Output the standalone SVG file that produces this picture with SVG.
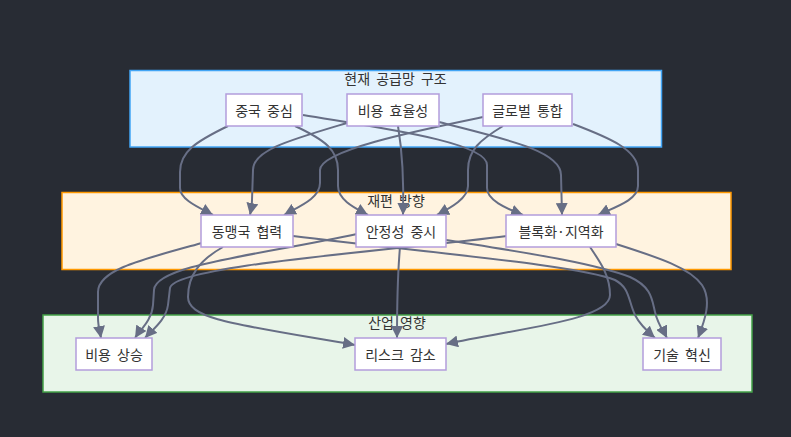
<svg xmlns="http://www.w3.org/2000/svg" width="791" height="437" viewBox="0 0 791 437">
<style>
text{font-family:"Noto Sans CJK KR","Noto Sans",sans-serif;font-size:14px;fill:#333;text-anchor:middle;dominant-baseline:central;word-spacing:3px}
.node rect{fill:#ffffff;stroke:#b39ddb;stroke-width:1.5}
.edge{fill:none;stroke:#676e85;stroke-width:2;marker-end:url(#arrow)}
</style>
<defs>
<marker id="arrow" viewBox="0 0 10 10" refX="10" refY="5" markerUnits="userSpaceOnUse" markerWidth="12" markerHeight="12" orient="auto">
<path d="M0,0 L10,5 L0,10 z" fill="#676e85"/>
</marker>
</defs>
<rect width="791" height="437" fill="#282c34"/>
<g id="clusters">
<g id="cluster-current">
<rect x="130" y="70.5" width="531.5" height="76.5" fill="#e3f2fd" stroke="#42a5f5" stroke-width="1.5"/>
<text x="395.5" y="78">현재 공급망 구조</text>
</g>
<g id="cluster-reorg">
<rect x="62" y="192.5" width="669" height="77" fill="#fff3e0" stroke="#ff9800" stroke-width="1.5"/>
<text x="396" y="200">재편 방향</text>
</g>
<g id="cluster-impact">
<rect x="43" y="315" width="709" height="77" fill="#e8f5e9" stroke="#43a047" stroke-width="1.5"/>
<text x="397" y="322">산업 영향</text>
</g>
</g>
<g id="edges">
<path class="edge" d="M228,126 C195,142 180,152 180,172 L180,188 C180,200 200,208 213,215"/>
<path class="edge" d="M295,126 C325,140 338,150 338,170 L338,186 C338,200 355,208 368,215"/>
<path class="edge" d="M303,115 C380,128 487,142 487,165 L487,188 C487,200 505,208 523,215"/>
<path class="edge" d="M347,123 C290,140 253,150 253,170 L252,200 C252,205 251,210 250,215"/>
<path class="edge" d="M398,126 C402,150 404,180 403,215"/>
<path class="edge" d="M439,122 C500,138 561,150 561,175 L562,215"/>
<path class="edge" d="M483,117 C420,130 320,150 320,170 L320,183 C320,198 300,206 284,215"/>
<path class="edge" d="M503,126 C480,140 468,150 468,170 L468,186 C468,198 452,207 437,215"/>
<path class="edge" d="M573,124 C610,138 638,150 638,170 L638,186 C638,200 615,207 598,215"/>
<path class="edge" d="M202,243 C140,260 98,270 98,292 L98,318 C98,326 100,332 101,338"/>
<path class="edge" d="M223,247 C200,260 188,275 188,297 C188,320 240,325 355,345"/>
<path class="edge" d="M293,236 C420,252 580,265 615,280 C630,288 628,300 635,315 C640,325 648,332 655,338"/>
<path class="edge" d="M357,234 C260,255 155,265 154,290 L153,305 C152,320 140,330 135,338"/>
<path class="edge" d="M400,247 C398,270 397,300 397,338"/>
<path class="edge" d="M446,240 C520,252 590,262 630,277 C652,287 652,300 655,312 C658,325 664,332 667,338"/>
<path class="edge" d="M507,236 C400,250 175,265 170,288 L168,305 C166,320 152,330 145,338"/>
<path class="edge" d="M590,247 C600,262 610,275 610,295 C610,320 520,328 446,344"/>
<path class="edge" d="M616,244 C660,258 690,268 702,285 C712,300 705,320 698,338"/>
</g>
<g id="node-china" class="node"><rect x="226" y="94" width="76" height="32"/><text x="264" y="110">중국 중심</text></g>
<g id="node-cost" class="node"><rect x="347" y="94" width="92" height="32"/><text x="393" y="110">비용 효율성</text></g>
<g id="node-global" class="node"><rect x="483" y="94" width="89" height="32"/><text x="527.5" y="110">글로벌 통합</text></g>
<g id="node-ally" class="node"><rect x="201" y="215" width="92" height="32"/><text x="247" y="231">동맹국 협력</text></g>
<g id="node-stable" class="node"><rect x="356" y="215" width="90" height="32"/><text x="401" y="231">안정성 중시</text></g>
<g id="node-bloc" class="node"><rect x="506" y="215" width="110" height="32"/><text x="561" y="231">블록화·지역화</text></g>
<g id="node-costup" class="node"><rect x="76" y="338" width="76" height="32"/><text x="114" y="354">비용 상승</text></g>
<g id="node-risk" class="node"><rect x="355" y="338" width="91" height="32"/><text x="400.5" y="354">리스크 감소</text></g>
<g id="node-tech" class="node"><rect x="643" y="338" width="78" height="32"/><text x="682" y="354">기술 혁신</text></g>
</svg>
